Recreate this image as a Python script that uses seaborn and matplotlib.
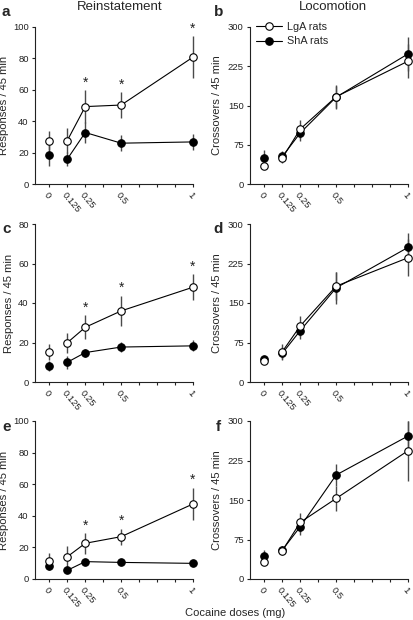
import matplotlib
matplotlib.use("Agg")
import matplotlib.pyplot as plt
from matplotlib.lines import Line2D
import seaborn as sns
import numpy as np
import pandas as pd

# ---------------- data ----------------
doses = [0, 0.125, 0.25, 0.5, 1]
dose_labels = ["0", "0.125", "0.25", "0.5", "1"]
groups = ["LgA rats", "ShA rats"]

a_lga = [27.7, 27.7, 49.3, 50.3, 80.8]
a_lga_sem = [6.0, 8.0, 10.5, 8.3, 13.3]
a_sha = [18.6, 15.9, 32.8, 26.0, 26.8]
a_sha_sem = [7.0, 4.7, 7.0, 5.0, 5.0]

b_lga = [34.9, 49.5, 105.0, 166.8, 234.7]
b_lga_sem = [5.0, 10.0, 17.0, 22.0, 33.0]
b_sha = [50.1, 52.6, 97.6, 166.0, 248.6]
b_sha_sem = [14.0, 10.0, 16.0, 22.0, 32.0]

c_lga = [15.2, 19.9, 27.7, 36.0, 48.0]
c_lga_sem = [4.0, 5.0, 6.1, 7.7, 6.6]
c_sha = [8.3, 10.0, 14.9, 17.7, 18.3]
c_sha_sem = [2.5, 3.2, 2.0, 2.5, 2.8]

d_lga = [39.0, 57.7, 106.5, 182.0, 235.9]
d_lga_sem = [5.0, 14.0, 19.0, 27.0, 35.0]
d_sha = [43.0, 54.5, 97.6, 178.8, 255.5]
d_sha_sem = [7.0, 12.0, 16.0, 31.0, 27.0]

e_lga = [11.4, 14.1, 22.6, 26.8, 47.5]
e_lga_sem = [5.0, 6.6, 6.5, 5.0, 10.3]
e_sha = [8.0, 5.5, 11.0, 10.5, 9.9]
e_sha_sem = [2.0, 1.5, 1.5, 1.5, 1.5]

f_lga = [32.9, 53.8, 107.6, 153.0, 243.6]
f_lga_sem = [5.0, 8.0, 18.0, 24.0, 57.0]
f_sha = [44.3, 55.0, 99.4, 197.5, 271.5]
f_sha_sem = [10.0, 8.0, 16.0, 21.0, 29.0]

signif = [False, False, True, True, True]   # LgA vs ShA, reinstatement panels

resp_ticks_100 = [0, 20, 40, 60, 80, 100]
resp_ticks_80 = [0, 20, 40, 60, 80]
cross_ticks = [0, 75, 150, 225, 300]

panels = [
    # letter, lga, lga_sem, sha, sha_sem, yticks, ylabel, stars
    ("a", a_lga, a_lga_sem, a_sha, a_sha_sem, resp_ticks_100, "Responses / 45 min", True),
    ("b", b_lga, b_lga_sem, b_sha, b_sha_sem, cross_ticks, "Crossovers / 45 min", False),
    ("c", c_lga, c_lga_sem, c_sha, c_sha_sem, resp_ticks_80, "Responses / 45 min", True),
    ("d", d_lga, d_lga_sem, d_sha, d_sha_sem, cross_ticks, "Crossovers / 45 min", False),
    ("e", e_lga, e_lga_sem, e_sha, e_sha_sem, resp_ticks_100, "Responses / 45 min", True),
    ("f", f_lga, f_lga_sem, f_sha, f_sha_sem, cross_ticks, "Crossovers / 45 min", False),
]

# ---------------- style ----------------
sns.set_style("ticks")
plt.rcParams["font.family"] = ["Liberation Sans", "DejaVu Sans"]
plt.rcParams["axes.linewidth"] = 0.8
plt.rcParams["xtick.major.width"] = 0.8
plt.rcParams["ytick.major.width"] = 0.8
plt.rcParams["xtick.major.size"] = 2.5
plt.rcParams["ytick.major.size"] = 2.5
plt.rcParams["xtick.color"] = "#222222"
plt.rcParams["ytick.color"] = "#222222"

W_PX, H_PX = 413, 620
fig = plt.figure(figsize=(W_PX / 100, H_PX / 100), dpi=100)

col_left = [35, 250]
ax_w = 158
rows = [(27, 184), (224, 382), (421, 579)]

all_ticks = np.arange(0, 1.0001, 0.125)
tick_labels = []
for t in all_ticks:
    lab = ""
    for d, l in zip(doses, dose_labels):
        if abs(d - t) < 1e-9:
            lab = l
    tick_labels.append(lab)

err_col = "#4a4a4a"
letter_pos = {"a": (1, 5), "b": (214, 5), "c": (2, 222), "d": (213, 222), "e": (2, 420), "f": (216, 420)}

for i, (letter, lga, lga_sem, sha, sha_sem, yticks, ylabel, stars) in enumerate(panels):
    r, c = divmod(i, 2)
    top, bot = rows[r]
    ax = fig.add_axes([col_left[c] / W_PX, 1 - bot / H_PX, ax_w / W_PX, (bot - top) / H_PX])

    # error bars (behind markers)
    for mean, sem in ((sha, sha_sem), (lga, lga_sem)):
        ax.errorbar(doses, mean, yerr=sem, fmt="none", ecolor=err_col, elinewidth=1.0,
                    capsize=0, zorder=2, clip_on=False)

    # ShA (filled) then LgA (open) on top
    for mean, face, z, grp in ((sha, "black", 3, "ShA rats"), (lga, "white", 4, "LgA rats")):
        df = pd.DataFrame({"dose": doses, "value": mean})
        sns.lineplot(data=df.iloc[1:], x="dose", y="value", ax=ax, color="black", lw=0.8,
                     marker="o", markersize=5.4, markerfacecolor=face, markeredgecolor="black",
                     markeredgewidth=0.8, zorder=z, clip_on=False, legend=False)
        sns.lineplot(data=df.iloc[:1], x="dose", y="value", ax=ax, color="black", lw=0.8,
                     marker="o", markersize=5.4, markerfacecolor=face, markeredgecolor="black",
                     markeredgewidth=0.8, zorder=z, clip_on=False, legend=False)

    if stars:
        for d, m, s, sig in zip(doses, lga, lga_sem, signif):
            if sig:
                ax.annotate("*", xy=(d, m + s), xytext=(0, 5.5), textcoords="offset points",
                            ha="center", va="center", fontsize=10, color="#222222",
                            annotation_clip=False)

    ax.set_xlim(-0.1, 1.0)
    ax.set_ylim(yticks[0], yticks[-1])
    ax.set_yticks(yticks)
    ax.set_yticklabels([str(t) for t in yticks], fontsize=6.8)
    ax.set_xticks(all_ticks)
    ax.set_xticklabels(tick_labels, fontsize=6.8, rotation=-50, ha="left", va="top",
                       rotation_mode="anchor")
    ax.tick_params(axis="x", pad=2.2)
    ax.tick_params(axis="y", pad=2)
    ax.set_xlabel("")
    ax.set_ylabel(ylabel, fontsize=8.1, labelpad=3 if c == 0 else 4)
    sns.despine(ax=ax)
    for sp in ax.spines.values():
        sp.set_color("#222222")

    lx, ly = letter_pos[letter]
    fig.text(lx / W_PX, 1 - ly / H_PX, letter, fontsize=11, fontweight="bold",
             ha="left", va="top")

    if letter == "b":
        handles = [
            Line2D([0], [0], color="black", lw=0.8, marker="o", markersize=5.4,
                   markerfacecolor="white", markeredgecolor="black", markeredgewidth=0.8),
            Line2D([0], [0], color="black", lw=0.8, marker="o", markersize=5.4,
                   markerfacecolor="black", markeredgecolor="black", markeredgewidth=0.8),
        ]
        ax.legend(handles, ["LgA rats", "ShA rats"], loc="upper left",
                  bbox_to_anchor=(0.035, 1.035), frameon=False, fontsize=7.8,
                  handlelength=2.4, handletextpad=0.5, labelspacing=0.45,
                  borderaxespad=0, borderpad=0)

fig.text(120 / W_PX, 1 - 7 / H_PX, "Reinstatement", fontsize=9.5, ha="center", va="center")
fig.text(333 / W_PX, 1 - 7 / H_PX, "Locomotion", fontsize=9.5, ha="center", va="center")
fig.text(235 / W_PX, 1 - 613 / H_PX, "Cocaine doses (mg)", fontsize=8, ha="center", va="center")

fig.savefig("out.png", dpi=100)
